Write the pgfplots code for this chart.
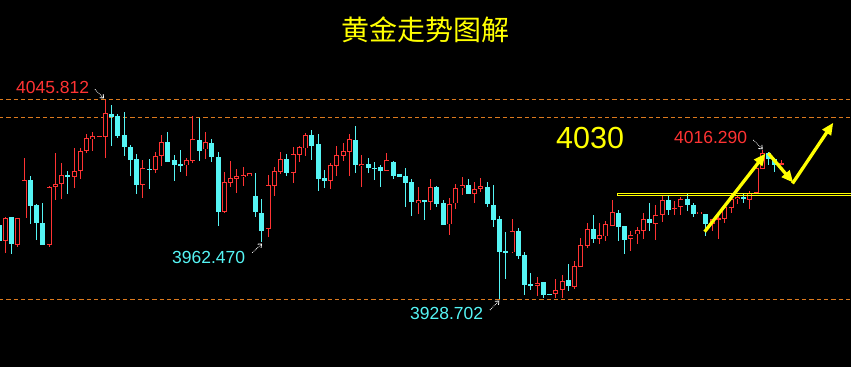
\documentclass[border=0pt]{standalone}
\usepackage{pgfplots}
\pgfplotsset{compat=1.18}
\usepackage{pgfplotstable}
\usetikzlibrary{arrows.meta}
\usepackage{fontspec}
\setmainfont{Liberation Sans}
\newfontfamily\cjk{Noto Sans CJK SC}
\definecolor{cR}{HTML}{FF3333}
\definecolor{cC}{HTML}{55F5F5}
\definecolor{cY}{HTML}{FFFF00}
\definecolor{cO}{HTML}{DD7A1E}

% up (red, hollow) candles: x open high low close
\pgfplotstableread{
x o h l c
0 3963.1 3977.2 3956.1 3976.3
2 3960.8 3976.5 3959.6 3976.3
3 3976.3 4011.7 3976.3 3998.6
7 3960.8 3995.3 3959.6 3994.5
8 3994.9 4014.7 3986.9 3996.3
9 3996.3 4008.8 3987.8 4001.6
11 4000.7 4017.4 3994.3 4003.9
12 4004.3 4017.6 3999.6 4015.8
13 4016.0 4025.7 4014.8 4023.3
14 4022.7 4027.0 4016.0 4024.5
15 4024.3 4024.7 4024.3 4024.7
16 4024.2 4045.812 4011.9 4038.0
22 3996.0 4010.4 3988.4 4005.7
24 4004.9 4015.4 4002.7 4012.7
25 4013.1 4025.1 4007.2 4021.0
29 4007.4 4011.7 4001.3 4010.6
30 4010.1 4036.4 4008.6 4022.9
32 4016.8 4027.0 4011.0 4021.0
35 3980.2 4003.5 3979.4 3997.5
36 3997.2 4010.0 3994.9 3999.8
37 3999.6 4005.3 3991.0 4001.0
38 4000.7 4006.6 3995.3 4001.7
39 4001.3 4002.9 4001.1 4002.7
42 3970.2 4001.7 3965.5 3995.9
43 3995.5 4006.4 3989.6 4004.1
44 4003.7 4015.3 4002.2 4011.0
46 4003.1 4018.2 3997.2 4013.9
47 4013.7 4018.5 4009.6 4018.2
48 4017.4 4026.2 4013.1 4025.2
52 3998.4 4008.6 3993.7 4007.4
53 4007.3 4018.8 4001.2 4013.3
54 4013.1 4020.5 4010.1 4015.8
55 4015.4 4025.8 4001.3 4022.9
57 4007.2 4013.5 3994.9 4008.2
61 4004.3 4014.8 4004.0 4010.6
66 3985.1 3994.9 3979.0 3987.1
68 3986.1 3999.6 3981.2 3994.7
71 3972.7 3988.2 3966.2 3984.5
72 3985.1 3996.5 3981.9 3993.9
73 3993.9 4000.6 3990.2 3995.9
75 3990.8 3997.5 3985.5 3993.5
76 3993.5 4000.0 3991.6 3995.3
81 3956.3 3975.9 3956.0 3968.7
85 3936.7 3941.8 3930.8 3938.3
88 3932.0 3940.6 3929.5 3934.0
89 3934.3 3943.0 3929.3 3939.3
91 3936.1 3951.2 3934.8 3948.3
92 3947.9 3964.7 3947.6 3960.6
93 3960.2 3973.7 3958.9 3969.8
95 3964.3 3973.7 3961.2 3966.3
96 3965.7 3974.7 3963.0 3972.8
97 3972.0 3987.1 3971.8 3980.0
100 3964.3 3969.0 3957.1 3966.3
101 3966.9 3971.2 3961.2 3969.4
102 3969.0 3979.6 3964.0 3975.9
104 3973.1 3984.1 3963.7 3978.4
105 3978.4 3989.8 3974.3 3987.1
107 3982.1 3986.5 3978.2 3982.4
108 3982.8 3989.0 3978.2 3987.5
111 3979.2 3980.3 3979.1 3980.2
113 3973.0 3975.9 3969.0 3975.7
114 3975.7 3979.4 3964.1 3976.5
115 3976.1 3984.7 3973.7 3983.1
116 3982.5 3990.4 3979.4 3987.6
117 3987.6 3990.0 3984.7 3988.8
119 3987.1 3992.5 3981.8 3991.3
120 3991.3 4007.0 3991.1 4005.7
121 4005.4 4016.29 4005.1 4014.5
124 4008.0 4010.6 4007.9 4008.6
}\up

% down (cyan, filled) candles: x open high low close
\pgfplotstableread{
x o h l c
-1 3972.4 3974.1 3960.0 3963.0
1 3976.9 3977.1 3955.5 3961.0
4 3998.6 4001.2 3973.1 3983.7
5 3984.1 3984.7 3963.7 3973.7
6 3973.5 3985.3 3960.5 3960.8
10 4001.9 4004.1 3990.8 4000.7
17 4037.6 4042.9 4019.0 4035.6
18 4036.6 4037.4 4023.7 4024.8
19 4025.2 4038.9 4012.9 4018.4
20 4018.2 4019.4 4001.3 4010.7
21 4011.1 4013.9 3990.8 3996.0
23 4005.3 4011.0 3993.7 4004.7
26 4021.0 4027.0 4009.4 4009.6
27 4010.4 4013.5 3998.4 4007.8
28 4008.2 4016.4 4003.3 4007.0
31 4022.3 4035.4 4010.1 4016.0
33 4020.5 4023.1 4009.2 4012.5
34 4012.3 4015.3 3972.0 3980.2
40 3989.4 4002.9 3977.2 3980.0
41 3979.4 3987.6 3962.47 3969.0
45 4011.1 4014.1 4001.3 4003.1
49 4025.2 4028.2 4010.6 4018.8
50 4020.0 4025.8 3992.5 3999.4
51 4000.0 4004.7 3994.3 3998.2
56 4022.3 4030.5 4003.1 4007.6
58 4008.2 4011.9 4003.1 4006.0
59 4006.0 4009.4 3999.0 4005.4
60 4006.4 4007.6 3994.9 4004.3
62 4009.6 4010.0 3999.6 4001.2
63 4002.3 4002.3 4000.6 4000.6
64 4001.2 4006.0 3983.1 3997.0
65 3997.6 3999.4 3977.8 3985.9
67 3987.1 3987.3 3975.3 3985.9
69 3994.7 3995.5 3983.1 3984.9
70 3985.3 3987.1 3972.3 3972.5
74 3995.9 3999.2 3990.5 3990.8
77 3994.7 3997.6 3983.1 3984.7
78 3984.1 3995.9 3971.4 3975.3
79 3975.9 3977.7 3928.702 3956.7
80 3956.9 3968.3 3940.8 3956.3
82 3968.8 3970.4 3952.2 3954.3
83 3954.7 3956.3 3931.4 3937.3
84 3937.7 3944.0 3934.2 3936.7
86 3938.9 3939.1 3929.5 3931.1
87 3931.8 3931.9 3931.3 3931.4
90 3940.0 3949.4 3933.6 3936.5
94 3970.0 3978.2 3961.8 3964.3
98 3979.4 3981.2 3963.0 3971.4
99 3971.8 3972.0 3955.5 3963.6
103 3975.9 3985.5 3968.8 3973.4
106 3987.1 3989.4 3978.4 3981.4
109 3987.5 3991.0 3980.8 3984.1
110 3984.1 3985.1 3977.2 3978.8
112 3978.8 3979.0 3966.1 3973.0
118 3988.8 3990.8 3985.1 3987.5
122 4014.5 4015.1 4007.6 4011.0
123 4011.0 4011.7 4003.7 4007.6
}\dn

\pgfplotsset{
  cndl/.style={draw=none, mark=none, forget plot,
    error bars/.cd, y dir=both, y explicit, error mark=none},
}

\begin{document}
\begin{tikzpicture}
\fill[black] (0,0) rectangle (851bp,367bp);
\useasboundingbox (0,0) rectangle (851bp,367bp);
\begin{axis}[
  at={(0,0)}, anchor=south west,
  scale only axis, width=851bp, height=367bp,
  xmin=-0.847, xmax=135.18, ymin=3888.92, ymax=4104.57,
  hide axis, clip=true,
]
% price levels
\addplot[forget plot, cO, line width=1bp, dash pattern=on 4.3bp off 3bp] coordinates {(-1,4045.812) (136,4045.812)};
\addplot[forget plot, cO, line width=1bp, dash pattern=on 4.3bp off 3bp] coordinates {(-1,4035.7) (136,4035.7)};
\addplot[forget plot, cO, line width=1bp, dash pattern=on 4.3bp off 3bp] coordinates {(-1,3928.702) (136,3928.702)};
% cyan candles
\addplot[cndl, error bar style={draw=cC, line width=1bp, solid}]
  table[x=x, y expr={(\thisrow{h}+\thisrow{l})/2}, y error expr={(\thisrow{h}-\thisrow{l})/2}] {\dn};
\addplot[cndl, error bar style={draw=cC, line width=5bp, solid}]
  table[x=x, y expr={(\thisrow{o}+\thisrow{c})/2}, y error expr={max(abs(\thisrow{c}-\thisrow{o})/2,0.3)}] {\dn};
% red candles
\addplot[cndl, error bar style={draw=cR, line width=1bp, solid}]
  table[x=x, y expr={(\thisrow{h}+\thisrow{l})/2}, y error expr={(\thisrow{h}-\thisrow{l})/2}] {\up};
\addplot[cndl, error bar style={draw=cR, line width=5bp, solid}]
  table[x=x, y expr={(\thisrow{o}+\thisrow{c})/2}, y error expr={max(abs(\thisrow{c}-\thisrow{o})/2,0.3)}] {\up};
\addplot[cndl, error bar style={draw=black, line width=3.2bp, solid}]
  table[x=x, y expr={(\thisrow{o}+\thisrow{c})/2}, y error expr={max(abs(\thisrow{c}-\thisrow{o})/2-0.47,0)}] {\up};
\end{axis}
% annotations in pixel coordinates (origin top-left)
\begin{scope}[x=1bp,y=-1bp,yshift=367bp]
\draw[cY, line width=0.8bp] (851.5,193.4) -- (617.3,193.4) -- (617.3,195.6) -- (851.5,195.6);
\node[cY, inner sep=0, anchor=center] at (425,29.5) {\cjk\fontsize{28bp}{32bp}\selectfont 黄金走势图解};
\node[cR, inner sep=0, anchor=base west] at (16,94) {\fontsize{17.5bp}{20bp}\selectfont 4045.812};
\node[cC, inner sep=0, anchor=base west] at (172,263.3) {\fontsize{17.5bp}{20bp}\selectfont 3962.470};
\node[cC, inner sep=0, anchor=base west] at (410,319.5) {\fontsize{17.5bp}{20bp}\selectfont 3928.702};
\node[cR, inner sep=0, anchor=base west] at (674,144) {\fontsize{17.5bp}{20bp}\selectfont 4016.290};
\node[cY, inner sep=0, anchor=base west] at (556,148.3) {\fontsize{30.5bp}{34bp}\selectfont 4030};
\begin{scope}[white, line width=0.8bp, densely dotted]
\draw[-{Straight Barb[length=3bp,width=5bp,line width=0.8bp]}] (95,89.5) -- (104,98.5);
\draw[-{Straight Barb[length=3bp,width=5bp,line width=0.8bp]}] (252.3,252.7) -- (262,243.5);
\draw[-{Straight Barb[length=3bp,width=5bp,line width=0.8bp]}] (490,310) -- (499.3,300.5);
\draw[-{Straight Barb[length=3bp,width=5bp,line width=0.8bp]}] (753.3,140) -- (762.7,149.3);
\end{scope}
\begin{scope}[cY, line width=3.3bp]
\draw[-{Triangle[length=12bp,width=10bp]}] (704.7,231.7) -- (765.5,153.5);
\draw[-{Triangle[length=12bp,width=10bp]}] (768.3,153.3) -- (793.3,182.7);
\draw[-{Triangle[length=12bp,width=10bp]}] (792.5,183.5) -- (833.3,122.7);
\end{scope}
\end{scope}
\end{tikzpicture}
\end{document}
